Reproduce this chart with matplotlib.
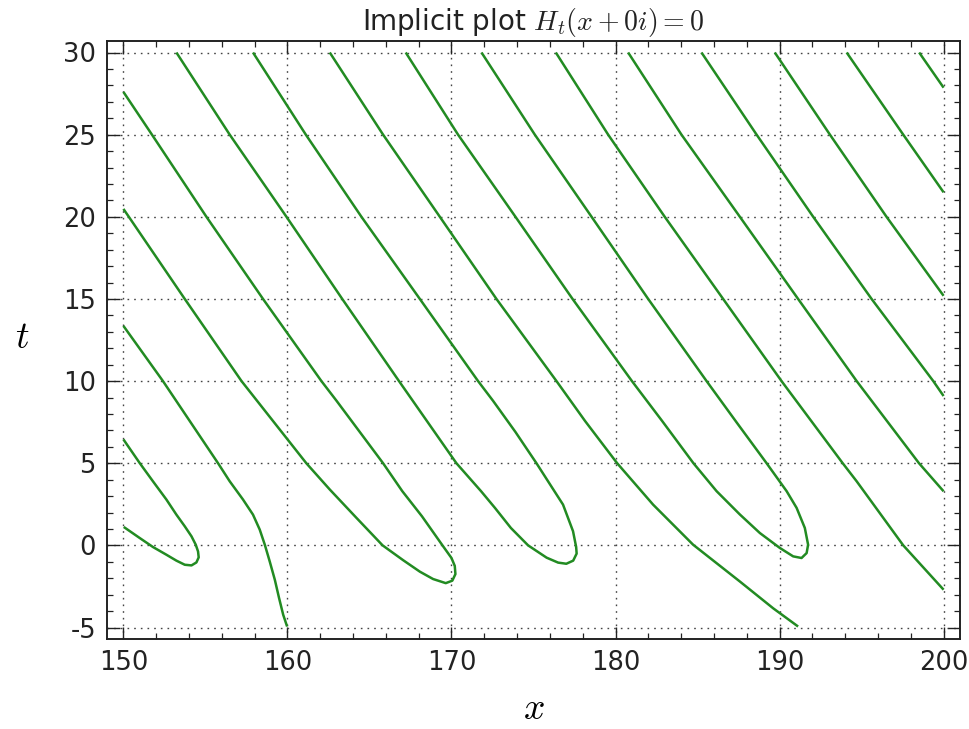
import matplotlib
matplotlib.use('Agg')
import matplotlib.pyplot as plt
from matplotlib.ticker import MultipleLocator

plt.rcParams['font.family'] = ['DejaVu Sans']
plt.rcParams['mathtext.fontset'] = 'cm'
plt.rcParams['axes.unicode_minus'] = False

# ---- data (x, t) ----
loop_a_x = [150.0, 151.0, 151.8, 152.62, 153.23, 153.74, 154.15, 154.41, 154.55, 154.59, 154.45,
            154.15, 153.74, 153.23, 152.62, 151.8, 150.99, 150.02]
loop_a_t = [6.45, 5.0, 3.9, 2.79, 1.87, 1.16, 0.55, 0.04, -0.37, -0.73, -1.04,
            -1.22, -1.18, -0.93, -0.57, -0.1, 0.45, 1.12]

curve_b_x = [150.0, 152.41, 155.77, 156.48, 157.29, 157.9, 158.31, 158.62, 158.92, 159.23, 159.49, 159.74, 159.98]
curve_b_t = [13.36, 10.0, 5.0, 3.9, 2.79, 1.87, 0.96, 0.04, -0.98, -2.09, -3.21, -4.22, -4.94]

loop_c_x = [150.0, 150.33, 153.74, 157.2, 161.15, 162.58, 164.21, 165.8, 167.05, 168.07, 168.88, 169.65,
            170.05, 170.24, 170.2, 170.0, 169.45, 168.2, 167.0, 165.83, 163.0, 162.07, 158.51, 155.06,
            151.74, 150.0]
loop_c_t = [20.48, 20.0, 15.0, 10.0, 5.0, 3.4, 1.67, 0.0, -0.9, -1.6, -2.05, -2.3,
            -2.15, -1.75, -1.25, -0.77, 0.0, 1.77, 3.3, 5.0, 8.79, 10.0, 15.0, 20.0,
            25.0, 27.6]

loop_d_x = [153.23, 156.48, 159.94, 163.34, 166.8, 170.3, 171.8, 172.65, 173.62, 174.67, 175.8, 176.5,
            177.0, 177.42, 177.63, 177.6, 177.41, 176.8, 175.18, 173.9, 172.54, 171.62, 168.07,
            164.51, 161.12, 157.9]
loop_d_t = [30, 25, 20, 15, 10, 5, 3.3, 2.28, 1.06, 0.0, -0.75, -1.05,
            -1.12, -0.93, -0.5, -0.1, 0.86, 2.48, 5.0, 6.9, 8.79, 10.0, 15.0,
            20.0, 25.0, 30.0]

curve_f_x = [162.58, 165.83, 169.29, 172.74, 176.4, 178.15, 180.1, 182.29, 184.73, 187.58, 189.61, 191.13]
curve_f_t = [30, 25, 20, 15, 10, 7.56, 5.0, 2.48, 0.04, -2.2, -3.83, -4.94]

loop_e_x = [167.21, 170.4, 173.9, 177.38, 181.0, 182.85, 184.75, 186.16, 187.58, 188.8, 190.02,
            190.83, 191.34, 191.65, 191.74, 191.54, 191.04, 190.43, 189.21, 187.4, 185.55,
            181.99, 178.54, 175.08, 171.83]
loop_e_t = [30, 25, 20, 15, 10, 7.56, 5.0, 3.3, 1.88, 0.75, -0.16,
            -0.67, -0.77, -0.47, 0.04, 1.06, 2.28, 3.3, 5.0, 7.46, 10.0,
            15.0, 20.0, 25.0, 30.0]

line_11_x = [176.36, 179.55, 183.0, 186.56, 190.12, 193.85, 194.7, 197.54, 200.0]
line_11_t = [30, 25, 20, 15, 10, 5, 3.9, 0, -2.7]
line_12_x = [180.77, 184.02, 187.58, 191.13, 194.7, 198.5, 200.0]
line_12_t = [30, 25, 20, 15, 10, 5, 3.29]
line_13_x = [185.24, 188.6, 192.05, 195.61, 199.37, 200.0]
line_13_t = [30, 25, 20, 15, 10, 9.09]
line_14_x = [189.71, 193.07, 196.52, 200.0]
line_14_t = [30, 25, 20, 15.19]
line_15_x = [194.09, 197.54, 200.0]
line_15_t = [30, 25, 21.49]
line_16_x = [198.51, 200.0]
line_16_t = [30, 27.86]

curves = [(loop_a_x, loop_a_t), (curve_b_x, curve_b_t), (loop_c_x, loop_c_t),
          (loop_d_x, loop_d_t), (curve_f_x, curve_f_t), (loop_e_x, loop_e_t),
          (line_11_x, line_11_t), (line_12_x, line_12_t), (line_13_x, line_13_t),
          (line_14_x, line_14_t), (line_15_x, line_15_t), (line_16_x, line_16_t)]

title_text = 'Implicit plot $H_t(x+0i)=0$'

fig = plt.figure(figsize=(9.69, 7.29), dpi=100)
ax = fig.add_axes([107 / 969, 1 - 639 / 729, 853 / 969, 598 / 729])

for xs, ts in curves:
    ax.plot(xs, ts, color='#228b22', lw=1.8, solid_joinstyle='round', solid_capstyle='butt')

ax.set_xlim(149.0, 201.0)
ax.set_ylim(-5.7, 30.7)
ax.xaxis.set_major_locator(MultipleLocator(10))
ax.xaxis.set_minor_locator(MultipleLocator(2))
ax.yaxis.set_major_locator(MultipleLocator(5))
ax.yaxis.set_minor_locator(MultipleLocator(1))
ax.tick_params(which='both', direction='in', top=True, right=True, colors='#222222')
ax.tick_params(which='major', length=9, width=1.0, labelsize=18.5, pad=8)
ax.tick_params(which='minor', length=4.5, width=0.9)
for s in ax.spines.values():
    s.set_linewidth(1.4)
    s.set_color('#222222')
ax.grid(True, which='major', color='#444444', linestyle=(0, (1.2, 3.6)), linewidth=1.0)

ax.set_title(title_text, fontsize=20, pad=8, color='#222222')
ax.set_xlabel('$x$', fontsize=27, va='center')
ax.xaxis.set_label_coords(0.5, (639 - 709) / 598)
ax.set_ylabel('$t$', fontsize=27, rotation=0, ha='center', va='center')
ax.yaxis.set_label_coords((22 - 107) / 853, (639 - 338) / 598)

fig.savefig('out.png', dpi=100)
